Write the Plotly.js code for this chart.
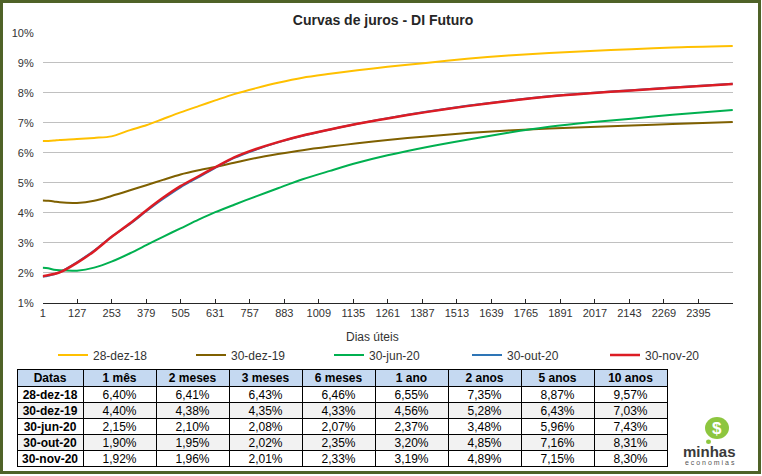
<!DOCTYPE html>
<html><head><meta charset="utf-8">
<script src="https://cdn.plot.ly/plotly-3.0.1.min.js"></script>
<style>
html,body{margin:0;padding:0;background:#fff}
#chart{width:762px;height:476px}
#chart .cell-text{transform:translateY(-4.5px)}
</style>
</head><body><div id="chart"></div>
<script>
// ---------- chart data ----------
const days = [1,21,42,63,126,189,252,320,379,440,504,570,631,700,780,860,950,1050,1150,1260,1400,1550,1700,1850,2000,2150,2300,2520];
const s281218 = [6.40,6.40,6.41,6.43,6.46,6.50,6.55,6.76,6.92,7.13,7.35,7.56,7.75,7.96,8.16,8.34,8.51,8.64,8.76,8.87,9.00,9.14,9.25,9.33,9.40,9.46,9.52,9.57];
const s301219 = [4.41,4.40,4.38,4.35,4.33,4.40,4.56,4.75,4.92,5.10,5.28,5.42,5.53,5.67,5.83,5.96,6.09,6.21,6.32,6.43,6.55,6.66,6.75,6.81,6.86,6.91,6.96,7.03];
const s300620 = [2.17,2.15,2.10,2.08,2.07,2.17,2.37,2.65,2.92,3.20,3.48,3.77,4.02,4.27,4.55,4.82,5.12,5.40,5.67,5.92,6.19,6.44,6.67,6.87,7.02,7.14,7.27,7.43];
const s301020 = [1.87,1.90,1.95,2.02,2.35,2.74,3.20,3.63,4.05,4.46,4.85,5.19,5.50,5.83,6.11,6.35,6.57,6.78,6.97,7.16,7.37,7.57,7.74,7.89,8.00,8.09,8.18,8.31];
const s301120 = [1.88,1.92,1.96,2.01,2.33,2.72,3.19,3.65,4.08,4.50,4.89,5.22,5.52,5.85,6.13,6.36,6.58,6.78,6.97,7.15,7.36,7.56,7.73,7.88,7.99,8.08,8.17,8.30];
const seriesNames = ['28-dez-18','30-dez-19','30-jun-20','30-out-20','30-nov-20'];
const xTickVals = [1,127,253,379,505,631,757,883,1009,1135,1261,1387,1513,1639,1765,1891,2017,2143,2269,2395,2521];
const xTickText = ['1','127','253','379','505','631','757','883','1009','1135','1261','1387','1513','1639','1765','1891','2017','2143','2269','2395',''];
const yTickVals = [1,2,3,4,5,6,7,8,9,10];
const yTickText = ['1%','2%','3%','4%','5%','6%','7%','8%','9%','10%'];

// ---------- table data ----------
const tableTenors = ['1 mês','2 meses','3 meses','6 meses','1 ano','2 anos','5 anos','10 anos'];
const tableDates = ['28-dez-18','30-dez-19','30-jun-20','30-out-20','30-nov-20'];
const t281218 = [6.40,6.41,6.43,6.46,6.55,7.35,8.87,9.57];
const t301219 = [4.40,4.38,4.35,4.33,4.56,5.28,6.43,7.03];
const t300620 = [2.15,2.10,2.08,2.07,2.37,3.48,5.96,7.43];
const t301020 = [1.90,1.95,2.02,2.35,3.20,4.85,7.16,8.31];
const t301120 = [1.92,1.96,2.01,2.33,3.19,4.89,7.15,8.30];

// ---------- build ----------
const W = 762, H = 476;
const px = x => x / W;
const py = y => 1 - y / H;
const FONT = 'Liberation Sans, Arial, sans-serif';
const colors = ['#FFC000','#7F6000','#00B050','#2E75B6','#DC1C24'];
const seriesVals = [s281218, s301219, s300620, s301020, s301120];

const traces = seriesVals.map((v, i) => ({
  type: 'scatter', mode: 'lines', x: days, y: v, name: seriesNames[i],
  line: {color: colors[i], width: i === 4 ? 2.5 : 2, shape: 'spline', smoothing: 0.8},
  hoverinfo: 'skip'
}));

const NBSP = '\u00a0';
const tableRows = [t281218, t301219, t300620, t301020, t301120];
const fmt = v => v.toFixed(2).replace('.', ',') + '%';
const cellCols = [tableDates.slice()];
tableTenors.forEach((t, j) => cellCols.push(tableRows.map(r => fmt(r[j]))));
const rowFill = tableDates.map((d, i) => i % 2 === 1 ? '#f2f2f2' : '#ffffff');
const fillCols = cellCols.map(() => rowFill);
const cellWeights = cellCols.map((c, j) => j === 0 ? 'bold' : 'normal');

traces.push({
  type: 'table',
  domain: {x: [px(17), px(667)], y: [0, py(369)]},
  columnwidth: [66].concat(tableTenors.map(() => 73)),
  header: {
    values: ['Datas'].concat(tableTenors.map(t => t.split(' ').join(NBSP))),
    fill: {color: '#c5d9f1'}, line: {color: '#000', width: 1},
    align: 'center', height: 17, font: {family: FONT, size: 12, color: '#000', weight: 'bold'}
  },
  cells: {
    values: cellCols, fill: {color: fillCols}, line: {color: '#000', width: 1},
    align: 'center', height: 16, font: {family: FONT, size: 12, color: '#000', weight: cellWeights}
  }
});

const layout = {
  width: W, height: H,
  margin: {l: 0, r: 0, t: 0, b: 0, pad: 0},
  paper_bgcolor: '#fff', plot_bgcolor: '#fff',
  font: {family: FONT, size: 11, color: '#333'},
  title: {text: '<b>Curvas de juros - DI Futuro</b>', x: px(383), xanchor: 'center', xref: 'paper',
          y: py(20), yanchor: 'middle', yref: 'container', font: {family: FONT, size: 14, color: '#262626'}},
  showlegend: true,
  legend: {orientation: 'h', x: px(53), xanchor: 'left', y: py(355), yanchor: 'middle',
           entrywidth: 93, entrywidthmode: 'pixels', bgcolor: 'rgba(0,0,0,0)',
           font: {family: FONT, size: 12, color: '#333'}, traceorder: 'normal'},
  xaxis: {domain: [px(42.7), px(733)], range: [1, 2521], tickmode: 'array',
          tickvals: xTickVals, ticktext: xTickText, ticks: 'inside', ticklen: 4,
          tickcolor: '#262626', showline: true, linecolor: '#262626', linewidth: 1,
          showgrid: false, zeroline: false, tickfont: {family: FONT, size: 11, color: '#333'},
          fixedrange: true},
  yaxis: {domain: [py(302.7), py(33)], range: [1, 10], tickmode: 'array', tickvals: yTickVals,
          ticktext: yTickText, showgrid: true, gridcolor: '#c0c0c0', gridwidth: 1, zeroline: false,
          showline: false, ticks: '', ticklabelstandoff: 8,
          tickfont: {family: FONT, size: 11, color: '#333'}, fixedrange: true},
  annotations: [
    {text: 'Dias úteis', x: px(372), y: py(337), xref: 'paper', yref: 'paper', showarrow: false,
     xanchor: 'center', yanchor: 'middle', font: {family: FONT, size: 12, color: '#333'}},
    {text: '<b>$</b>', x: px(717), y: py(428), xref: 'paper', yref: 'paper', showarrow: false,
     xanchor: 'center', yanchor: 'middle', font: {family: FONT, size: 17, color: '#fff'}},
    {text: '<b>minhas</b>', x: px(709.5), y: py(451), xref: 'paper', yref: 'paper', showarrow: false,
     xanchor: 'center', yanchor: 'middle', font: {family: FONT, size: 15, color: '#3a3a3a'}},
    {text: 'e c o n o m i a s', x: px(709.5), y: py(462.5), xref: 'paper', yref: 'paper', showarrow: false,
     xanchor: 'center', yanchor: 'middle', font: {family: FONT, size: 7, color: '#555'}}
  ],
  shapes: [
    {type: 'circle', xref: 'paper', yref: 'paper', x0: px(705), x1: px(729), y0: py(439), y1: py(417),
     fillcolor: '#8dc63f', line: {width: 0}},
    {type: 'circle', xref: 'paper', yref: 'paper', x0: px(706), x1: px(711), y0: py(444), y1: py(439.5),
     fillcolor: '#8dc63f', line: {width: 0}},
    {type: 'rect', xref: 'paper', yref: 'paper', x0: px(1.5), x1: px(759.5), y0: py(472.5), y1: py(1.5),
     line: {color: '#4f6228', width: 3}, fillcolor: 'rgba(0,0,0,0)'}
  ]
};

Plotly.newPlot('chart', traces, layout, {staticPlot: true, displayModeBar: false});
</script></body></html>
